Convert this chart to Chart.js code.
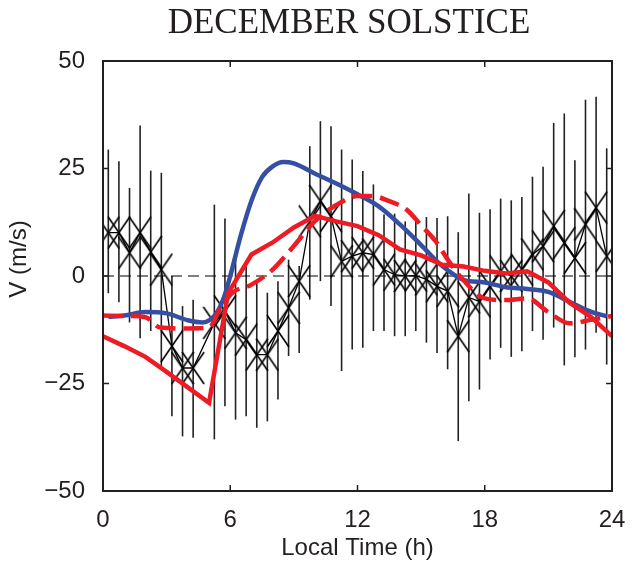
<!DOCTYPE html>
<html lang="en">
<head>
    <meta charset="UTF-8">
    <title>December Solstice</title>
    <script src="https://cdn.jsdelivr.net/npm/chart.js"></script>
    <style>
        body {
            margin: 0;
            background: #ffffff;
        }
    </style>
</head>
<body>
<canvas id="solsticeChart" width="634" height="571"></canvas>

<script>
    // observed winds, half-hour bins (null = no data)
    const obsTime = [0.25, 0.75, 1.25, 1.75, 2.25, 2.75, 3.25, 3.75, 4.25, 4.75, 5.25, 5.75,
        6.25, 6.75, 7.25, 7.75, 8.25, 8.75, 9.25, 9.75, 10.25, 10.75, 11.25, 11.75,
        12.25, 12.75, 13.25, 13.75, 14.25, 14.75, 15.25, 15.75, 16.25, 16.75, 17.25, 17.75,
        18.25, 18.75, 19.25, 19.75, 20.25, 20.75, 21.25, 21.75, 22.25, 22.75, 23.25, 23.75];
    const obsV = [10.1, 10.1, 5.4, 10.1, 5.6, 1.5, -16.3, -21.4, -21.4, null, -10.9, -8.2,
        -13.2, -14.8, -18.3, -18.3, -12.8, -7.4, -1.2, 12.7, 17.4, 13.9, 3.4, 4.6,
        5.4, 5.0, 1.5, 0.3, 0.0, 0.1, -0.8, -2.4, -3.5, -14.0, -5.0, -5.9,
        -2.4, 1.1, 0.0, 1.5, 5.0, 6.9, 11.6, 7.7, 4.2, 12.0, 15.9, 4.6];
    const obsHigh = [29.4, 26.7, 20.5, 35.0, 24.5, 24.0, 0.0, -7.0, -5.5, null, 16.6, 13.4,
        5.4, 2.8, -1.2, -3.9, -1.2, 3.8, 2.3, 30.2, 36.0, 34.8, 29.4, 27.1,
        24.4, 21.3, 14.3, 14.5, 12.7, 13.1, 13.7, 13.5, 13.9, 10.2, 19.2, 14.7,
        15.5, 18.0, 17.6, 18.4, 23.1, 25.4, 35.6, 37.8, 26.9, 41.0, 41.7, 29.7];
    const obsLow = [-4.0, -6.1, -10.8, -14.5, -12.8, -21.0, -32.6, -37.3, -37.6, null, -38.0, -30.3,
        -33.4, -32.6, -35.3, -33.8, -28.7, -18.6, -17.9, -5.5, -1.2, -7.0, -22.1, -17.1,
        -16.7, -12.8, -12.8, -14.0, -14.0, -12.8, -15.5, -17.9, -21.7, -38.4, -29.1, -26.4,
        -19.4, -16.7, -18.8, -17.5, -12.8, -14.8, -12.0, -20.8, -18.9, -17.1, -13.2, -20.6];

    // model curves
    const blueTime = [0.25, 1, 2, 3, 4, 4.7, 5.3, 5.7, 6, 6.5, 7, 7.5, 8, 8.5, 9, 10, 11, 12,
        13, 14, 15, 16, 17, 18, 19, 20, 21, 22, 23, 23.75];
    const blueV = [-9.5, -9.2, -8.4, -8.7, -10.3, -10.8, -9.0, -5.0, 0.0, 9.5, 17.5, 23.0, 25.5, 26.5, 26.2, 23.8, 21.5, 19.0,
        16.2, 12.0, 7.2, 2.3, -0.9, -1.5, -2.6, -3.0, -3.7, -6.0, -8.3, -9.4];

    const redTime = [0, 1, 2, 3, 4, 5, 5.9, 7, 8, 9, 10, 11, 12, 13, 14, 15, 16, 17, 18, 19, 20, 21, 22, 23, 24];
    const redV = [-14.0, -16.3, -18.8, -22.3, -25.9, -29.5, -4.0, 5.0, 7.8, 11.3, 14.0, 12.7, 11.6, 9.5, 6.2,
        4.8, 2.6, 2.2, 1.2, 0.6, 1.1, -1.5, -6.2, -9.5, -14.0];

    const dashTime = [0, 1, 2, 2.7, 4, 5, 5.5, 6.1, 7, 8, 9, 10, 11, 12, 12.7, 13.5, 14.3, 15, 15.7, 16.3,
        17, 18, 19, 20, 21, 22, 23, 24];
    const dashV = [-9.2, -9.3, -9.6, -12.0, -12.2, -12.0, -7.8, -3.9, -2.0, 1.5, 7.0, 12.8, 16.5, 18.6, 18.6, 17.4,
        15.5, 11.8, 8.0, 3.5, -1.0, -5.2, -5.6, -5.2, -8.4, -11.0, -10.2, -9.3];

    const xTicks = [0, 6, 12, 18, 24];
    const yTicks = [-50, -25, 0, 25, 50];

    const pairs = (xs, ys) => xs.map((x, i) => ({x: x, y: ys[i]}));

    const sansFont = '"Liberation Sans", Arial, Helvetica, sans-serif';

    // tall x-shaped marker
    const cross = document.createElement('canvas');
    cross.width = 24;
    cross.height = 34;
    const cctx = cross.getContext('2d');
    cctx.strokeStyle = '#000';
    cctx.lineWidth = 1.6;
    cctx.beginPath();
    cctx.moveTo(1, 1);
    cctx.lineTo(23, 33);
    cctx.moveTo(23, 1);
    cctx.lineTo(1, 33);
    cctx.stroke();

    // vertical error bars behind everything
    const errorBars = {
        id: 'errorBars',
        beforeDatasetsDraw(chart) {
            const {ctx, scales: {x, y}} = chart;
            ctx.save();
            ctx.strokeStyle = '#222';
            ctx.lineWidth = 1.6;
            obsTime.forEach((t, i) => {
                if (obsHigh[i] === null) return;
                const px = x.getPixelForValue(t);
                ctx.beginPath();
                ctx.moveTo(px, y.getPixelForValue(obsHigh[i]));
                ctx.lineTo(px, y.getPixelForValue(obsLow[i]));
                ctx.stroke();
            });
            ctx.restore();
        }
    };

    // box, inward ticks, title and y label
    const frame = {
        id: 'frame',
        afterDraw(chart) {
            const {ctx, chartArea: a, scales: {x, y}} = chart;
            ctx.save();
            ctx.strokeStyle = '#231f20';
            ctx.lineWidth = 1.5;
            xTicks.slice(1, -1).forEach(t => {
                const px = x.getPixelForValue(t);
                ctx.beginPath();
                ctx.moveTo(px, a.top);
                ctx.lineTo(px, a.top + 6);
                ctx.moveTo(px, a.bottom);
                ctx.lineTo(px, a.bottom - 6);
                ctx.stroke();
            });
            yTicks.slice(1, -1).forEach(v => {
                const py = y.getPixelForValue(v);
                ctx.beginPath();
                ctx.moveTo(a.left, py);
                ctx.lineTo(a.left + 6, py);
                ctx.moveTo(a.right, py);
                ctx.lineTo(a.right - 6, py);
                ctx.stroke();
            });
            ctx.lineWidth = 2;
            ctx.strokeRect(a.left, a.top, a.right - a.left, a.bottom - a.top);

            ctx.fillStyle = '#231f20';
            ctx.font = '35px "Liberation Serif", "Times New Roman", serif';
            ctx.textAlign = 'center';
            ctx.textBaseline = 'middle';
            ctx.fillText('DECEMBER SOLSTICE', 349, 24);

            ctx.font = '24px ' + sansFont;
            ctx.translate(19, 259);
            ctx.rotate(-Math.PI / 2);
            ctx.fillText('V (m/s)', 0, 0);
            ctx.restore();
        }
    };

    new Chart(document.getElementById('solsticeChart').getContext('2d'), {
        type: 'line',
        data: {
            datasets: [
                {
                    data: pairs(redTime, redV),
                    borderColor: '#ed1c24',
                    borderWidth: 4.5,
                    pointRadius: 0,
                    tension: 0
                },
                {
                    data: pairs(dashTime, dashV),
                    borderColor: '#ed1c24',
                    borderWidth: 4.5,
                    borderDash: [20, 8],
                    pointRadius: 0,
                    cubicInterpolationMode: 'monotone'
                },
                {
                    data: pairs(blueTime, blueV),
                    borderColor: '#3550a2',
                    borderWidth: 4.5,
                    pointRadius: 0,
                    cubicInterpolationMode: 'monotone'
                },
                {
                    data: pairs(obsTime, obsV),
                    borderColor: '#000',
                    borderWidth: 1.3,
                    pointStyle: cross,
                    pointRadius: 12,
                    spanGaps: true,
                    tension: 0
                },
                {
                    data: [{x: 0, y: 0}, {x: 24, y: 0}],
                    borderColor: '#000',
                    borderWidth: 1,
                    borderDash: [11, 6],
                    pointRadius: 0
                }
            ]
        },
        options: {
            responsive: false,
            animation: false,
            devicePixelRatio: 1,
            layout: {padding: {top: 61, right: 22, left: 0, bottom: 0}},
            plugins: {
                legend: {display: false},
                tooltip: {enabled: false}
            },
            scales: {
                x: {
                    type: 'linear',
                    min: 0,
                    max: 24,
                    grid: {display: false},
                    border: {display: false},
                    afterFit: s => { s.height = 80; },
                    ticks: {
                        stepSize: 6,
                        padding: 7,
                        color: '#231f20',
                        font: {family: sansFont, size: 24}
                    },
                    title: {
                        display: true,
                        text: 'Local Time (h)',
                        color: '#231f20',
                        font: {family: sansFont, size: 24},
                        padding: {top: 0, bottom: 8}
                    }
                },
                y: {
                    min: -50,
                    max: 50,
                    grid: {display: false},
                    border: {display: false},
                    afterFit: s => { s.width = 103; },
                    ticks: {
                        stepSize: 25,
                        padding: 10,
                        color: '#231f20',
                        font: {family: sansFont, size: 24},
                        callback: v => String(v).replace('-', '\u2212')
                    }
                }
            }
        },
        plugins: [errorBars, frame]
    });
</script>
</body>
</html>
